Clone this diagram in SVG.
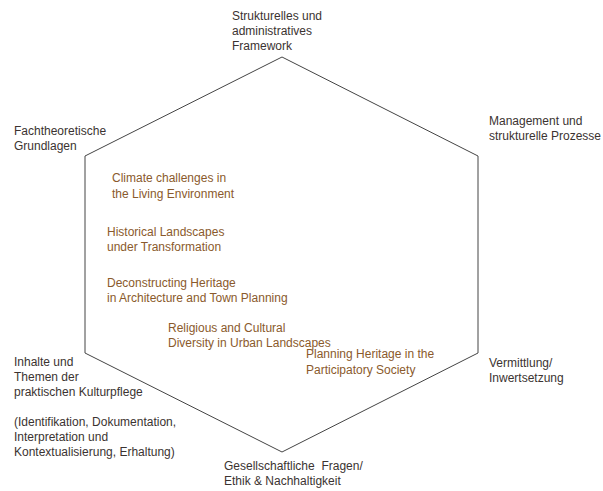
<svg xmlns="http://www.w3.org/2000/svg" width="603" height="491" viewBox="0 0 603 491">
<style>
text{font-family:"Liberation Sans",Arial,sans-serif;font-size:12px}
.d{fill:#3b3331}
.b{fill:#8a5a2c}
.hex{fill:none;stroke:#444;stroke-width:1}
</style>
<rect width="603" height="491" fill="#fff"/>
<g id="connectors">
<polygon class="hex" points="282,57 478,156 478,353 282,452 85,353 85,156"/>
</g>
<g id="n-top"><text class="d" x="232" y="20">Strukturelles und</text><text class="d" x="232" y="35">administratives</text><text class="d" x="232" y="50">Framework</text></g>
<g id="n-upleft"><text class="d" x="14" y="135">Fachtheoretische</text><text class="d" x="14" y="150">Grundlagen</text></g>
<g id="n-upright"><text class="d" x="489" y="125">Management und</text><text class="d" x="489" y="140">strukturelle Prozesse</text></g>
<g id="n-lowleft"><text class="d" x="14" y="366">Inhalte und</text><text class="d" x="14" y="381">Themen der</text><text class="d" x="14" y="396">praktischen Kulturpflege</text><text class="d" x="14" y="426">(Identifikation, Dokumentation,</text><text class="d" x="14" y="441">Interpretation und</text><text class="d" x="14" y="456">Kontextualisierung, Erhaltung)</text></g>
<g id="n-lowright"><text class="d" x="489" y="367">Vermittlung/</text><text class="d" x="489" y="382">Inwertsetzung</text></g>
<g id="n-bottom"><text class="d" x="224" y="470" xml:space="preserve">Gesellschaftliche  Fragen/</text><text class="d" x="224" y="485">Ethik &amp; Nachhaltigkeit</text></g>
<g id="t-climate"><text class="b" x="112" y="182">Climate challenges in</text><text class="b" x="112" y="198">the Living Environment</text></g>
<g id="t-historical"><text class="b" x="107" y="236">Historical Landscapes</text><text class="b" x="107" y="251">under Transformation</text></g>
<g id="t-deconstructing"><text class="b" x="107" y="287">Deconstructing Heritage</text><text class="b" x="107" y="302">in Architecture and Town Planning</text></g>
<g id="t-religious"><text class="b" x="168" y="332">Religious and Cultural</text><text class="b" x="168" y="347">Diversity in Urban Landscapes</text></g>
<g id="t-planning"><text class="b" x="306" y="358">Planning Heritage in the</text><text class="b" x="306" y="374">Participatory Society</text></g>
</svg>
